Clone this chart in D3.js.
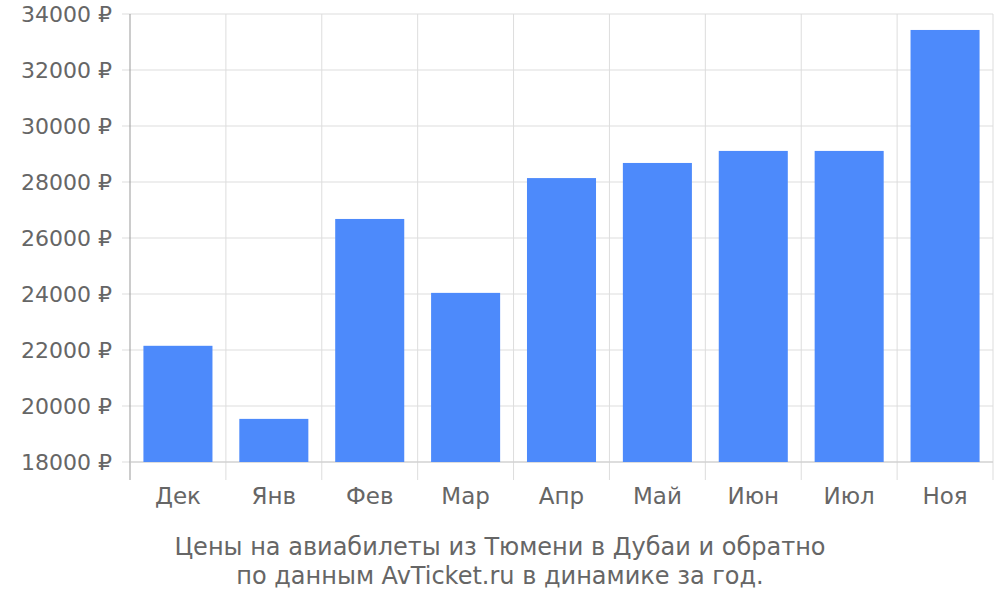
<!DOCTYPE html>
<html><head><meta charset="utf-8">
<script src="https://cdn.jsdelivr.net/npm/d3@7"></script>
<style>body{margin:0;background:#fff;font-family:"DejaVu Sans",sans-serif}</style>
</head><body>
<svg id="chart" width="1000" height="600"></svg>
<script>
var months = ["Дек","Янв","Фев","Мар","Апр","Май","Июн","Июл","Ноя"];
var prices = [22150,19540,26680,24040,28140,28680,29110,29110,33430];
var yTicks = [18000,20000,22000,24000,26000,28000,30000,32000,34000];

var svg = d3.select("#chart");
var pLeft = 130, pRight = 993, pTop = 14, pBottom = 462;

var x = d3.scaleBand().domain(months).range([pLeft,pRight]).paddingInner(0.28).paddingOuter(0.14);
var xGrid = d3.scaleBand().domain(months).range([pLeft,pRight]);
var y = d3.scaleLinear().domain([18000,34000]).range([pBottom,pTop]);

// grid
svg.selectAll(".hg").data(yTicks).enter().append("line")
    .attr("x1",pLeft-8).attr("x2",pRight)
    .attr("y1",function(d){return y(d);}).attr("y2",function(d){return y(d);})
    .attr("stroke","#ddd");
var vx = months.map(function(m){return xGrid(m);}).concat([pRight]);
svg.selectAll(".vg").data(vx).enter().append("line")
    .attr("x1",function(d){return d;}).attr("x2",function(d){return d;})
    .attr("y1",pTop).attr("y2",480)
    .attr("stroke",function(d,i){return i==0?"#999":"#ddd";});
svg.append("line").attr("x1",pLeft).attr("x2",pRight).attr("y1",pBottom).attr("y2",pBottom).attr("stroke","#ccc");

// bars
svg.selectAll(".bar").data(prices).enter().append("rect")
    .attr("x",function(d,i){return x(months[i]);})
    .attr("width",x.bandwidth())
    .attr("y",function(d){return y(d);})
    .attr("height",function(d){return pBottom-y(d);})
    .attr("fill","#4d8afb");

// labels
svg.selectAll(".yl").data(yTicks).enter().append("text")
    .attr("x",pLeft-18).attr("y",function(d){return y(d)+8;})
    .attr("text-anchor","end").attr("font-size",22).attr("fill","#666")
    .text(function(d){return d+" ₽";});
svg.selectAll(".xl").data(months).enter().append("text")
    .attr("x",function(d){return xGrid(d)+xGrid.bandwidth()/2;}).attr("y",504)
    .attr("text-anchor","middle").attr("font-size",23).attr("fill","#666")
    .text(function(d){return d;});

svg.append("text").attr("x",500).attr("y",555).attr("text-anchor","middle")
    .attr("font-size",24).attr("fill","#666").text("Цены на авиабилеты из Тюмени в Дубаи и обратно");
svg.append("text").attr("x",500).attr("y",584).attr("text-anchor","middle")
    .attr("font-size",24).attr("fill","#666").text("по данным AvTicket.ru в динамике за год.");
</script>
</body></html>
